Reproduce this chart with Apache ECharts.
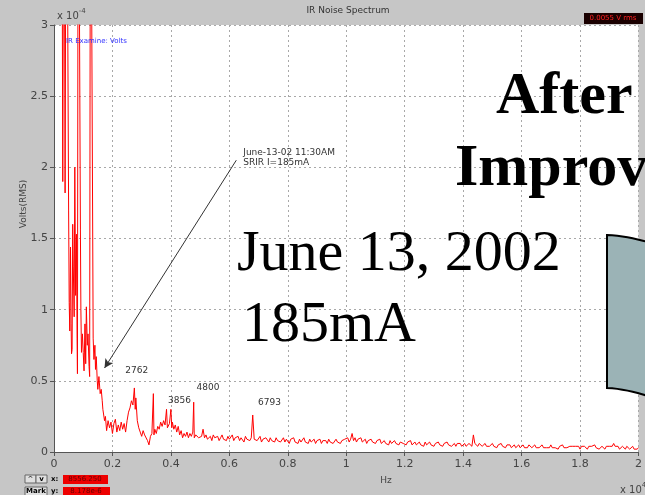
<!DOCTYPE html>
<html><head><meta charset="utf-8">
<script src="https://cdn.jsdelivr.net/npm/echarts@6/dist/echarts.min.js"></script>
<style>html,body{margin:0;padding:0;background:#c6c6c6}#c{width:645px;height:495px}</style>
</head><body><div id="c"></div>
<script>
// Low-frequency part: frequency (Hz) and RMS noise (units of 1e-4 V)
const lowFreqHz = [260,300,340,380,420,460,500,520,540,565,585,600,620,640,660,690,712,740,768,790,802,830,860,904,920,940,972,1000,1028,1060,1085,1107,1140,1164,1200,1220,1250,1300,1340,1367,1400,1420,1446,1480,1500,1537,1580,1616,1650,1672,1729,1760,1800,1850,1900,1950,
2000,2050,2100,2150,2200,2250,2300,2350,2400,2450,2500,2550,2600,2650,2700,2750,2780,2800,2850,2900,2950,3000,3050,3100,3150,3200,3250,3300,3350,3400,3420,3450,3500,3550,3600,3650,3700,3750,3800,3850,3880,3950,4000,4030,4050,4100,4150,4200,4250,4300,4350,4400,4450,4500,4550,4600,4650,4700,4750,4780,4800,4850];
const lowVoltsE4 = [5,1.9,5,1.82,5,3.5,1.7,1.05,0.85,1.44,0.9,0.69,0.72,1.6,1.3,0.95,2.0,1.1,1.53,0.8,0.55,5,5,1.56,1.0,0.7,0.83,0.7,0.57,0.9,0.62,1.02,0.75,0.83,0.6,0.53,5,5,0.8,0.65,0.75,0.58,0.67,0.5,0.44,0.53,0.41,0.44,0.36,0.30,0.22,0.25,0.15,0.22,0.17,0.21,
0.13,0.20,0.23,0.14,0.19,0.15,0.21,0.16,0.20,0.14,0.22,0.28,0.31,0.36,0.33,0.45,0.30,0.38,0.22,0.17,0.14,0.11,0.15,0.12,0.13,0.08,0.05,0.11,0.13,0.41,0.12,0.16,0.13,0.18,0.16,0.21,0.18,0.22,0.19,0.30,0.17,0.20,0.30,0.17,0.21,0.16,0.19,0.14,0.18,0.12,0.15,0.10,0.13,0.11,0.14,0.10,0.13,0.11,0.14,0.35,0.10,0.12];
// Tail: bins every 50 Hz from 4900 Hz to 20000 Hz
const tailStartHz = 4900, tailStepHz = 50;
const tailVoltsE4 = [
0.12,0.10,0.09,0.11,0.16,0.10,0.12,0.09,0.10,0.11,0.08,0.12,0.10,0.09,0.11,0.08,0.10,0.12,0.09,0.10,
0.08,0.11,0.09,0.10,0.12,0.08,0.10,0.09,0.11,0.08,0.10,0.09,0.07,0.11,0.09,0.10,0.08,0.10,0.26,0.09,
0.10,0.08,0.09,0.11,0.07,0.09,0.08,0.10,0.09,0.07,0.10,0.08,0.09,0.07,0.10,0.08,0.09,0.07,0.08,0.10,
0.07,0.09,0.08,0.06,0.09,0.08,0.10,0.07,0.08,0.06,0.09,0.07,0.08,0.10,0.07,0.08,0.06,0.09,0.07,0.08,
0.09,0.06,0.08,0.07,0.09,0.06,0.08,0.07,0.08,0.06,0.09,0.07,0.08,0.06,0.07,0.09,0.07,0.08,0.06,0.08,
0.07,0.09,0.08,0.10,0.07,0.09,0.13,0.08,0.10,0.07,0.09,0.08,0.10,0.07,0.08,0.09,0.06,0.08,0.07,0.09,
0.07,0.08,0.06,0.08,0.07,0.09,0.06,0.07,0.08,0.06,0.07,0.05,0.08,0.06,0.07,0.08,0.06,0.07,0.05,0.07,
0.08,0.06,0.07,0.05,0.07,0.06,0.08,0.05,0.06,0.07,0.05,0.06,0.07,0.05,0.06,0.04,0.07,0.05,0.06,0.07,
0.05,0.06,0.04,0.06,0.05,0.07,0.05,0.06,0.04,0.06,0.05,0.07,0.05,0.06,0.04,0.05,0.06,0.04,0.06,0.05,
0.06,0.04,0.05,0.06,0.04,0.05,0.06,0.05,0.04,0.12,0.06,0.05,0.04,0.06,0.05,0.04,0.05,0.06,0.04,0.05,
0.04,0.05,0.06,0.04,0.05,0.03,0.05,0.04,0.06,0.04,0.05,0.03,0.05,0.04,0.05,0.03,0.04,0.05,0.03,0.04,
0.05,0.03,0.04,0.05,0.03,0.04,0.03,0.05,0.04,0.03,0.04,0.05,0.03,0.04,0.03,0.04,0.05,0.03,0.04,0.03,
0.04,0.03,0.05,0.03,0.04,0.03,0.04,0.02,0.04,0.03,0.05,0.03,0.04,0.03,0.02,0.04,0.03,0.04,0.03,0.04,
0.03,0.04,0.02,0.04,0.03,0.04,0.03,0.02,0.04,0.03,0.04,0.03,0.05,0.03,0.04,0.02,0.03,0.04,0.03,0.02,
0.04,0.03,0.04,0.03,0.04,0.06,0.04,0.03,0.04,0.02,0.03,0.04,0.03,0.02,0.04,0.03,0.02,0.03,0.04,0.02,
0.03,0.02,0.03];
const xTickLabels = ['0','0.2','0.4','0.6','0.8','1','1.2','1.4','1.6','1.8','2'];
const peakLabels = ['2762','3856','4800','6793'];
const peakLabelPos = [[2440,0.60],[3900,0.39],[4880,0.485],[6980,0.38]];

const seriesData = lowFreqHz.map((f,i)=>[f, lowVoltsE4[i]])
  .concat(tailVoltsE4.map((v,i)=>[tailStartHz + i*tailStepHz, v]));

const chart = echarts.init(document.getElementById('c'), null, {renderer:'canvas'});
const gridCol = '#a8a8a8';
const axCol = '#555';

const shapePts = [];
for (let i=0;i<=8;i++){ const t=i/8; shapePts.push([607+41*t, 235+7*Math.pow(t,1.6)]); }
for (let i=8;i>=0;i--){ const t=i/8; shapePts.push([607+41*t, 388+8*Math.pow(t,1.6)]); }

const option = {
  animation:false,
  backgroundColor:'#c6c6c6',
  grid:{left:54, top:25, right:1, bottom:43, show:true, backgroundColor:'#ffffff', borderWidth:0},
  xAxis:[{
    type:'value', min:0, max:20000, interval:2000, position:'bottom',
    axisLine:{show:true, onZero:false, lineStyle:{color:axCol, width:1}},
    axisTick:{show:true, length:4, lineStyle:{color:axCol}},
    axisLabel:{color:'#444', fontSize:11, fontFamily:'DejaVu Sans', margin:7,
      formatter:(v)=>xTickLabels[Math.round(v/2000)]},
    splitLine:{show:true, lineStyle:{color:gridCol, type:[2,3], width:1}}
  },{
    type:'value', min:0, max:20000, interval:2000, position:'top',
    axisLine:{show:true, lineStyle:{color:axCol, width:1}},
    axisTick:{show:true, inside:true, length:4, lineStyle:{color:axCol}},
    axisLabel:{show:false}, splitLine:{show:false}
  }],
  yAxis:{
    type:'value', min:0, max:3, interval:0.5,
    axisLine:{show:true, lineStyle:{color:axCol, width:1}},
    axisTick:{show:true, length:4, lineStyle:{color:axCol}},
    axisLabel:{color:'#444', fontSize:11, fontFamily:'DejaVu Sans', margin:6},
    splitLine:{show:true, lineStyle:{color:gridCol, type:[2,3], width:1}}
  },
  series:[{
    type:'line', xAxisIndex:0, clip:true, symbol:'none',
    data: seriesData,
    lineStyle:{color:'#ff0000', width:1},
    markLine:{
      silent:true, symbol:['none','arrow'], symbolSize:[7,9],
      label:{show:false},
      lineStyle:{color:'#333', width:1, type:'solid'},
      data:[[{coord:[6238,2.05]},{coord:[1729,0.59]}]]
    },
    markPoint:{
      silent:true, symbol:'circle', symbolSize:0,
      data: peakLabels.map((t,i)=>({coord:peakLabelPos[i], value:t,
        label:{show:true, formatter:t, position:[0,0], align:'left', verticalAlign:'top', color:'#333', fontSize:9, fontFamily:'DejaVu Sans'}}))
        .concat([{coord:[6475,2.14], value:'a', label:{show:true, formatter:'June-13-02 11:30AM\nSRIR I=185mA', position:[0,0], align:'left', verticalAlign:'top', color:'#333', fontSize:9, lineHeight:10, fontFamily:'DejaVu Sans'}}])
    }
  }],
  graphic:[
    {type:'text', x:348, y:11, style:{text:'IR Noise Spectrum', fill:'#333', font:'9px "DejaVu Sans"', align:'center', verticalAlign:'middle'}, z:10},
    {type:'text', x:57, y:7, style:{text:'{a|x 10}{b|-4}', rich:{a:{fontSize:10, fill:'#444', fontFamily:'DejaVu Sans', padding:[4,0,0,0]}, b:{fontSize:7, fill:'#444', fontFamily:'DejaVu Sans', padding:[0,0,6,0]}}}, z:10},
    {type:'text', x:66, y:38, style:{text:'IR Examine: Volts', fill:'#3030ff', font:'7px "DejaVu Sans"'}, z:10},
    {type:'text', x:24, y:204, rotation:Math.PI/2, style:{text:'Volts(RMS)', fill:'#444', font:'9px "DejaVu Sans"', align:'center', verticalAlign:'middle'}, z:10},
    {type:'text', x:386, y:481, style:{text:'Hz', fill:'#444', font:'9px "DejaVu Sans"', align:'center', verticalAlign:'middle'}, z:10},
    {type:'text', x:620, y:481, style:{text:'{a|x 10}{b|4}', rich:{a:{fontSize:10, fill:'#444', fontFamily:'DejaVu Sans', padding:[4,0,0,0]}, b:{fontSize:7, fill:'#444', fontFamily:'DejaVu Sans', padding:[0,0,6,0]}}}, z:10},
    {type:'rect', shape:{x:584, y:13, width:59, height:11}, style:{fill:'#1a0000'}, z:10},
    {type:'text', x:613, y:18.5, style:{text:'0.0055 V rms', fill:'#ff2020', font:'7px "DejaVu Sans"', align:'center', verticalAlign:'middle'}, z:11},
    {type:'rect', shape:{x:25, y:475, width:11, height:8}, style:{fill:'#e0e0e0', stroke:'#666', lineWidth:1}, z:10},
    {type:'rect', shape:{x:36, y:475, width:11, height:8}, style:{fill:'#e0e0e0', stroke:'#666', lineWidth:1}, z:10},
    {type:'text', x:30.5, y:479, style:{text:'^', fill:'#000', font:'7px "DejaVu Sans"', align:'center', verticalAlign:'middle'}, z:11},
    {type:'text', x:41.5, y:479, style:{text:'v', fill:'#000', font:'bold 7px "DejaVu Sans"', align:'center', verticalAlign:'middle'}, z:11},
    {type:'text', x:51, y:479, style:{text:'x:', fill:'#000', font:'bold 7px "DejaVu Sans"', verticalAlign:'middle'}, z:11},
    {type:'rect', shape:{x:63, y:475, width:45, height:9}, style:{fill:'#ee0000'}, z:10},
    {type:'text', x:85, y:479.5, style:{text:'8556.250', fill:'#600', font:'7px "DejaVu Sans"', align:'center', verticalAlign:'middle'}, z:11},
    {type:'rect', shape:{x:25, y:487, width:22, height:9}, style:{fill:'#e0e0e0', stroke:'#666', lineWidth:1}, z:10},
    {type:'text', x:36, y:491.5, style:{text:'Mark', fill:'#000', font:'bold 7px "DejaVu Sans"', align:'center', verticalAlign:'middle'}, z:11},
    {type:'text', x:51, y:491.5, style:{text:'y:', fill:'#000', font:'bold 7px "DejaVu Sans"', verticalAlign:'middle'}, z:11},
    {type:'rect', shape:{x:63, y:487, width:47, height:9}, style:{fill:'#ee0000'}, z:10},
    {type:'text', x:86, y:491.5, style:{text:'8.178e-6', fill:'#600', font:'7px "DejaVu Sans"', align:'center', verticalAlign:'middle'}, z:11},
    {type:'polygon', shape:{points:shapePts}, style:{fill:'#9bb3b6', stroke:'#000', lineWidth:2}, z:20},
    {type:'text', x:496, y:97, style:{text:'After', fill:'#000', font:'bold 60px "Liberation Serif"', verticalAlign:'middle'}, z:21},
    {type:'text', x:455, y:169, style:{text:'Improv', fill:'#000', font:'bold 60px "Liberation Serif"', verticalAlign:'middle'}, z:21},
    {type:'text', x:237, y:255, style:{text:'June 13, 2002', fill:'#000', font:'58px "Liberation Serif"', verticalAlign:'middle'}, z:21},
    {type:'text', x:242, y:326, style:{text:'185mA', fill:'#000', font:'58px "Liberation Serif"', verticalAlign:'middle'}, z:21}
  ]
};
chart.setOption(option);
</script></body></html>
